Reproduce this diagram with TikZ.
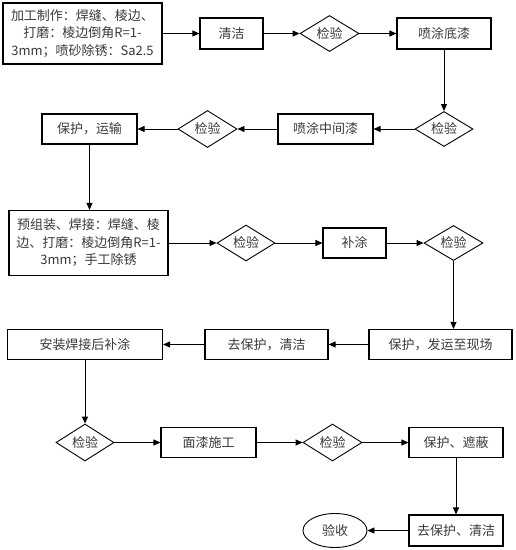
\documentclass[tikz,border=0pt]{standalone}
\usepackage{fontspec}
\setmainfont{Noto Sans CJK SC}
\usetikzlibrary{shapes.geometric,arrows.meta}
\definecolor{txt}{HTML}{3A3A3A}
\tikzset{
  every node/.style={font=\fontsize{13}{17.5}\selectfont, text=txt},
  box/.style={draw=black, line width=1.1pt, rectangle, inner sep=0pt, align=center},
  chk/.style={draw=black, line width=0.9pt, diamond, inner sep=0pt, aspect=1.6, minimum width=59pt, minimum height=36pt},
  oval/.style={draw=black, line width=0.9pt, ellipse, inner sep=0pt, minimum width=64pt, minimum height=34pt},
  flow/.style={draw=black, line width=0.9pt, -{Triangle[length=7pt,width=6pt]}}
}
\begin{document}
\begin{tikzpicture}[x=1pt,y=-1pt]
\useasboundingbox[fill=white] (0,0) rectangle (516,550);
% row 1
\node[box, minimum width=159pt, minimum height=61pt] (b1) at (82.5,33.5) {加工制作：焊缝、棱边、\\打磨：棱边倒角R=1-\\3mm；喷砂除锈：Sa2.5};
\node[box, minimum width=63pt, minimum height=31pt] (b2) at (231.5,33.5) {清洁};
\node[chk] (d1) at (329.5,33.5) {检验};
\node[box, minimum width=94pt, minimum height=31pt] (b3) at (444,33.5) {喷涂底漆};
% row 2
\node[chk, minimum width=58pt, minimum height=35pt] (d2) at (444,129) {检验};
\node[box, minimum width=95pt, minimum height=30pt] (b4) at (325.5,129) {喷涂中间漆};
\node[chk, minimum height=37pt] (d3) at (207.5,129) {检验};
\node[box, minimum width=95pt, minimum height=30pt] (b5) at (89.5,129) {保护，运输};
% row 3
\node[box, minimum width=159pt, minimum height=65pt] (b6) at (88.5,243) {预组装、焊接：焊缝、棱\\边、打磨：棱边倒角R=1-\\3mm；手工除锈};
\node[chk, minimum width=58pt] (d4) at (246,243) {检验};
\node[box, minimum width=63pt, minimum height=30pt] (b7) at (354.5,243) {补涂};
\node[chk, minimum height=35pt] (d5) at (453.5,243) {检验};
% row 4
\node[box, minimum width=143pt, minimum height=30pt] (b8) at (440.5,344.5) {保护，发运至现场};
\node[box, minimum width=123pt, minimum height=30pt] (b9) at (266.5,344.5) {去保护，清洁};
\node[box, minimum width=155pt, minimum height=30pt] (b10) at (85,344.5) {安装焊接后补涂};
% row 5
\node[chk, minimum width=58pt, minimum height=37pt] (d6) at (85,442.5) {检验};
\node[box, minimum width=95pt, minimum height=30pt] (b11) at (208.5,442.5) {面漆施工};
\node[chk, minimum height=37pt] (d7) at (332.5,442.5) {检验};
\node[box, minimum width=94pt, minimum height=30pt] (b12) at (456,442.5) {保护、遮蔽};
% row 6
\node[box, minimum width=94pt, minimum height=31pt] (b13) at (456,530.5) {去保护、清洁};
\node[oval] (e1) at (335,530.5) {验收};
% connectors
\draw[flow] (b1) -- (b2);
\draw[flow] (b2) -- (d1);
\draw[flow] (d1) -- (b3);
\draw[flow] (b3) -- (d2);
\draw[flow] (d2) -- (b4);
\draw[flow] (b4) -- (d3);
\draw[flow] (d3) -- (b5);
\draw[flow] (b5.south) -- (b5.south |- b6.north);
\draw[flow] (b6) -- (d4);
\draw[flow] (d4) -- (b7);
\draw[flow] (b7) -- (d5);
\draw[flow] (d5.south) -- (d5.south |- b8.north);
\draw[flow] (b8) -- (b9);
\draw[flow] (b9) -- (b10);
\draw[flow] (b10) -- (d6);
\draw[flow] (d6) -- (b11);
\draw[flow] (b11) -- (d7);
\draw[flow] (d7) -- (b12);
\draw[flow] (b12) -- (b13);
\draw[flow] (b13) -- (e1);
\end{tikzpicture}
\end{document}
